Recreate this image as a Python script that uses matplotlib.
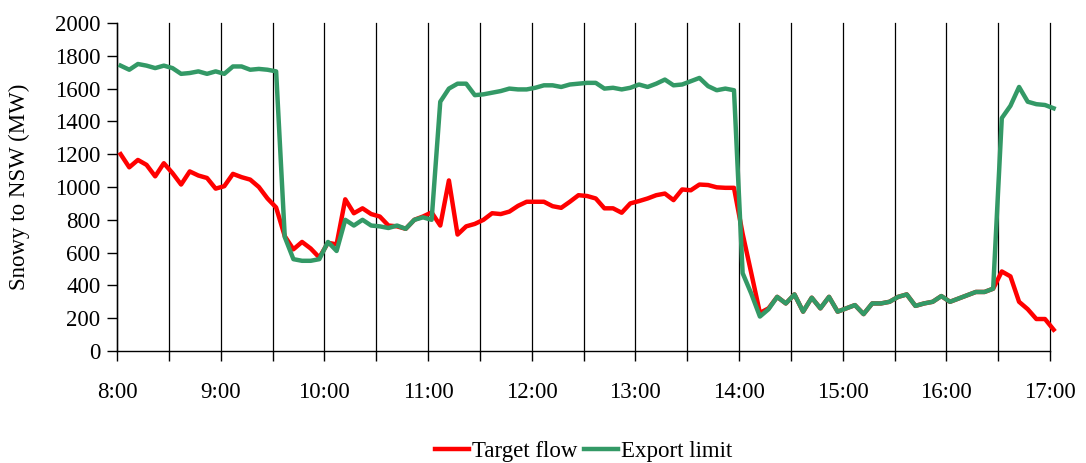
import matplotlib
matplotlib.use("Agg")
import matplotlib.pyplot as plt
import numpy as np

plt.rcParams['font.family'] = ['Liberation Serif', 'DejaVu Serif']

# 5-minute dispatch intervals, 8:00 to 17:00 (109 points)
target_flow = [
    1200, 1120, 1165, 1135, 1065, 1145, 1085, 1015, 1095, 1070, 1055, 990, 1005, 1080, 1060, 1045, 1000, 930, 875,
    700, 620, 665, 625, 570, 660, 650, 925, 840, 870, 835, 820,
    765, 760, 745, 800, 820, 845,
    765, 1040, 710, 760, 775, 800, 840, 835, 850,
    885, 910, 910, 910, 883, 873, 910, 950, 945, 930, 870, 870, 843, 900, 914, 930,
    950, 960, 920, 985, 980, 1015, 1012, 998, 995, 995,
    715, 475, 232, 260, 330,
    290, 345, 240, 325, 260, 330, 240, 260, 280, 225, 290, 290, 300, 330, 345, 275,
    290, 300, 335, 300, 320, 340, 360, 360, 380,
    485, 455, 300, 255, 195, 195, 130,
]
export_limit = [
    1740, 1715, 1750, 1740, 1725, 1740, 1725, 1690, 1695, 1705, 1690, 1705, 1690, 1735, 1735, 1715, 1720, 1715, 1705,
    695, 560, 550, 550, 560, 665, 610, 800, 765, 800, 765, 760,
    750, 765, 745, 800, 815, 800,
    1520, 1600, 1630, 1630, 1560, 1565, 1575, 1585, 1600,
    1595, 1595, 1605, 1620, 1620, 1610, 1625, 1630, 1635, 1635, 1600, 1605, 1595, 1605, 1625, 1610,
    1630, 1655, 1620, 1625, 1645, 1665, 1615, 1590, 1600, 1590,
    475, 350, 210, 255, 330,
    290, 345, 240, 325, 260, 330, 240, 260, 280, 225, 290, 290, 300, 330, 345, 275,
    290, 300, 335, 300, 320, 340, 360, 360, 380,
    1420, 1495, 1610, 1520, 1505, 1500, 1480,
]
interval_minutes = 5
first_sample_minute = 2.1   # samples plotted just after the interval start
hour_labels = ['8:00', '9:00', '10:00', '11:00', '12:00', '13:00', '14:00', '15:00', '16:00', '17:00']
y_ticks = [0, 200, 400, 600, 800, 1000, 1200, 1400, 1600, 1800, 2000]

W, H = 1086, 463
fig = plt.figure(figsize=(W / 100, H / 100), dpi=100)
ax = fig.add_axes([117 / W, 1 - 351 / H, (1050 - 117) / W, (351 - 23) / H])

t = first_sample_minute + interval_minutes * np.arange(len(target_flow))
ax.plot(t, target_flow, color='#FF0000', lw=3.2, label='Target flow', clip_on=False, zorder=3)
ax.plot(t, export_limit, color='#339966', lw=3.2, label='Export limit', clip_on=False, zorder=4)

span = 60 * (len(hour_labels) - 1)
ax.set_xlim(0, span)
ax.set_ylim(0, 2000)
ax.set_xticks(np.arange(0, span + 1, 60))
ax.set_xticklabels(hour_labels)
ax.set_xticks(np.arange(30, span + 1, 60), minor=True)
ax.set_yticks(y_ticks)

ax.set_axisbelow(True)
ax.grid(axis='x', which='both', color='black', lw=0.9)
for s in ['top', 'right']:
    ax.spines[s].set_visible(False)
for s in ['left', 'bottom']:
    ax.spines[s].set_color('black')
    ax.spines[s].set_linewidth(1.0)

ax.tick_params(axis='both', which='both', direction='out', length=7, width=1, colors='black')
ax.tick_params(axis='x', which='major', labelsize=16.5, pad=15)
ax.tick_params(axis='y', labelsize=16.5, pad=5)

ax.set_ylabel('Snowy to NSW (MW)', fontsize=16.5, labelpad=18)

fig.legend(loc='center', bbox_to_anchor=(583.5 / W, 1 - 451 / H), ncol=2, frameon=False,
           fontsize=16.5, handlelength=1.5, handletextpad=0.1, columnspacing=0.3)

for tk in ax.xaxis.get_major_ticks() + ax.xaxis.get_minor_ticks():
    tk.gridline.set_clip_on(False)

fig.savefig('out.png', dpi=100)
